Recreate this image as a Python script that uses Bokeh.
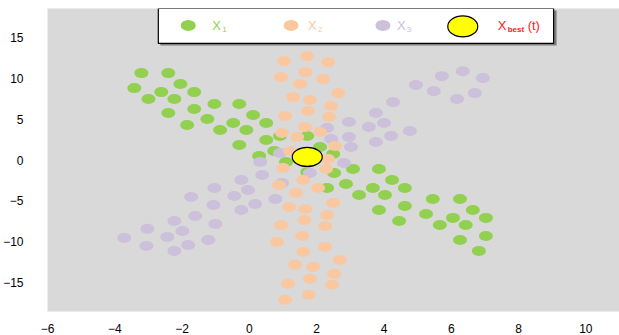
from bokeh.plotting import figure
from bokeh.models import Range1d, FixedTicker
from bokeh.core.properties import value
from bokeh.embed import file_html
from bokeh.resources import INLINE

# Population positions (three search agents' coordinate sets) and the best solution
x1_x = [-3.21, -2.41, -3.42, -2.62, -2.05, -1.64, -3.00, -2.23, -1.04, -0.30,
        -2.41, -1.64, -1.25, -1.85, -0.48, 0.11, 0.50, -0.87, -0.09, -0.30,
        0.50, 0.91, 1.72, 0.74, 0.29, 1.09, 2.10, 2.49, 2.52, 3.08,
        3.85, 4.24, 4.62, 3.67, 2.87, 2.31, 3.26, 4.03, 3.85, 4.62,
        4.45, 5.45, 6.26, 6.64, 5.25, 6.05, 7.03, 5.66, 6.43, 6.26,
        7.03, 6.82, 1.72]
x1_y = [10.61, 10.61, 8.78, 8.29, 9.27, 8.29, 7.44, 7.44, 6.83, 6.83,
        5.73, 6.22, 5.00, 4.27, 4.51, 5.49, 4.51, 3.66, 3.66, 1.83,
        2.44, 2.93, 2.93, 1.10, 0.49, -0.24, 1.59, 0.73, -1.59, -1.10,
        -1.10, -2.44, -3.41, -3.41, -2.93, -3.41, -4.27, -4.27, -6.10, -5.61,
        -7.44, -4.76, -4.76, -6.10, -6.59, -7.07, -7.07, -7.93, -7.93, -9.76,
        -9.27, -11.10, -1.46]

x2_x = [1.03, 1.72, 2.34, 0.94, 1.66, 2.19, 1.51, 1.30, 1.80, 2.64,
        2.43, 1.74, 1.06, 2.37, 1.66, 0.97, 1.42, 2.10, 2.55, 1.21,
        2.34, 1.00, 2.28, 1.60, 0.88, 2.04, 1.39, 2.49, 1.18, 1.66,
        2.31, 1.63, 0.94, 2.25, 1.57, 0.82, 2.25, 1.60, 2.69, 1.36,
        1.89, 2.52, 1.80, 1.15, 2.46, 1.77, 1.06]
x2_y = [12.07, 12.68, 11.95, 10.12, 10.73, 9.88, 9.27, 7.68, 7.32, 8.17,
        6.59, 5.98, 5.37, 5.24, 4.02, 3.29, 2.80, 3.41, 1.71, 1.10,
        0.12, -0.98, -1.10, -2.44, -3.05, -3.41, -4.02, -5.24, -5.73, -5.98,
        -6.71, -7.32, -7.93, -8.05, -9.27, -10.00, -10.61, -11.22, -12.20, -12.80,
        -13.05, -13.90, -14.51, -15.12, -15.24, -16.46, -17.07]

x3_x = [-3.72, -3.03, -3.06, -2.44, -2.23, -2.23, -1.99, -1.82, -1.61, -1.22,
        -1.01, -1.73, -1.07, -1.04, -0.45, -0.24, -0.24, -0.04, 0.17, 0.38,
        0.77, 0.97, 0.32, 0.91, 1.80, 2.81, 3.02, 2.43, 2.96, 2.31,
        2.96, 3.55, 4.00, 4.21, 4.77, 3.76, 3.76, 4.27, 4.95, 5.48,
        5.72, 6.17, 6.34, 6.70, 6.94]
x3_y = [-9.51, -8.41, -10.49, -9.39, -11.10, -7.44, -8.66, -10.37, -6.83, -9.76,
        -7.80, -4.51, -5.49, -3.41, -4.39, -6.10, -2.44, -3.66, -5.37, -1.83,
        -4.76, -2.80, -0.24, 0.85, -1.59, -0.37, 1.59, 2.56, 2.80, 3.90,
        4.63, 4.02, 4.51, 2.93, 3.54, 2.20, 5.73, 7.07, 9.15, 8.41,
        10.24, 7.44, 10.85, 8.17, 10.00]

best_x = [1.72]
best_y = [0.37]

x_ticks = [-6, -4, -2, 0, 2, 4, 6, 8, 10]
y_ticks = [-15, -10, -5, 0, 5, 10, 15]

GREEN = "#92D050"
ORANGE = "#F9C8A0"
PURPLE = "#CCC0DA"
YELLOW = "#FFFF00"
RED = "#FF2020"
FONT = value("Liberation Sans")

p = figure(width=619, height=335, output_backend="svg", toolbar_location=None,
           x_range=Range1d(-6, 11), y_range=Range1d(-18.5, 18.5),
           min_border_left=46, min_border_right=0, min_border_top=8,
           min_border_bottom=23)
p.background_fill_color = "#D9D9D9"
p.border_fill_color = "white"
p.outline_line_color = None
p.grid.visible = False

p.xaxis.ticker = FixedTicker(ticks=x_ticks)
p.yaxis.ticker = FixedTicker(ticks=y_ticks)
for ax in (p.xaxis[0], p.yaxis[0]):
    ax.axis_line_color = None
    ax.major_tick_line_color = None
    ax.minor_tick_line_color = None
    ax.major_label_text_font = "Liberation Sans"
    ax.major_label_text_font_size = "12px"
    ax.major_label_text_color = "black"
p.xaxis.major_label_standoff = 6
p.yaxis.major_label_standoff = 18
p.yaxis.major_label_text_align = "center"

# scatter clouds, drawn as flattened dots
dot = dict(width=14, height=10, width_units="screen", height_units="screen",
           line_color=None)
p.ellipse(x1_x, x1_y, fill_color=GREEN, **dot)
p.ellipse(x3_x, x3_y, fill_color=PURPLE, **dot)
p.ellipse(x2_x, x2_y, fill_color=ORANGE, **dot)
p.ellipse(best_x, best_y, width=30, height=19, width_units="screen",
          height_units="screen", fill_color=YELLOW, line_color="black",
          line_width=1.2)

# pixel-space ranges for the legend panel
p.extra_x_ranges = {"px": Range1d(46, 619)}
p.extra_y_ranges = {"px": Range1d(312, 8)}
px = dict(x_range_name="px", y_range_name="px")

p.quad(left=[159], right=[556], top=[10], bottom=[45], fill_color="#7F7F7F",
       line_color=None, **px)
p.quad(left=[157], right=[553], top=[8], bottom=[43], fill_color="white",
       line_color="black", line_width=1.2, **px)

sw = dict(width_units="screen", height_units="screen", **px)
p.ellipse([187], [25], width=15, height=11, fill_color=GREEN, line_color=None, **sw)
p.ellipse([290], [25], width=15, height=11, fill_color=ORANGE, line_color=None, **sw)
p.ellipse([382], [25], width=15, height=11, fill_color=PURPLE, line_color=None, **sw)
p.ellipse([462], [26], width=30, height=21, fill_color=YELLOW, line_color="black",
          line_width=1.2, **sw)

big = dict(text_font=FONT, text_font_size="13px", text_baseline="middle",
           text_align="left", **px)
small = dict(text_font=FONT, text_font_size="8px", text_baseline="middle",
             text_align="left", **px)
p.text([211], [25], text=["X"], text_color=GREEN, **big)
p.text([221], [29], text=["1"], text_color=GREEN, **small)
p.text([307], [25], text=["X"], text_color=ORANGE, **big)
p.text([317], [29], text=["2"], text_color=ORANGE, **small)
p.text([396], [25], text=["X"], text_color=PURPLE, **big)
p.text([406], [29], text=["3"], text_color=PURPLE, **small)
p.text([497], [25], text=["X"], text_color=RED, **big)
p.text([507], [29], text=["best"], text_color=RED, text_font_style="bold", **small)
p.text([527], [25], text=["(t)"], text_color=RED, **big)

open("out.html", "w").write(file_html(p, INLINE))
